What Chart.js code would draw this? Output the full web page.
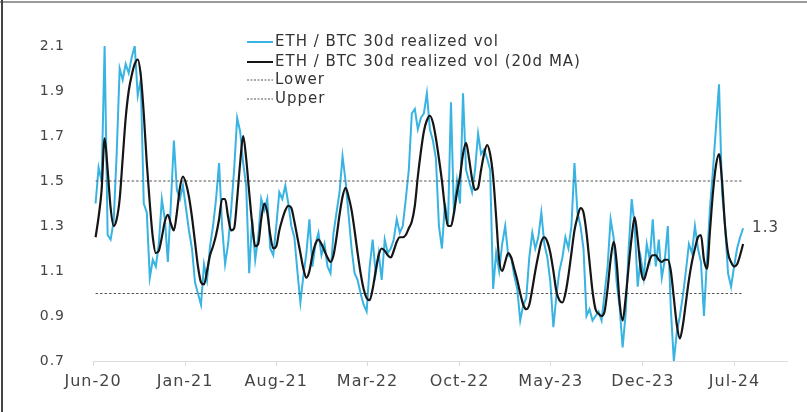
<!DOCTYPE html>
<html>
<head>
<meta charset="utf-8">
<script src="https://cdn.jsdelivr.net/npm/chart.js@4.4.1/dist/chart.umd.min.js"></script>
<style>
  html, body { margin: 0; padding: 0; background: #fff; }
  #wrap { position: relative; width: 807px; height: 412px; overflow: hidden; }
  #frameTop { position: absolute; left: 0; top: 1px; width: 807px; height: 2px; background: #9a9a9a; }
  #frameLeft { position: absolute; left: 1px; top: 0; width: 2px; height: 412px; background: #444; }
</style>
</head>
<body>
<div id="wrap">
  <canvas id="chart" width="807" height="412"></canvas>
  <div id="frameTop"></div>
  <div id="frameLeft"></div>
</div>
<script>
// weekly samples, first one on 2020-06-07
const firstSample = '2020-06-07'
const sampleStepDays = 7

const ethBtcVol = [
  1.40,1.56,1.50,2.10,1.26,1.24,1.32,1.62,2.00,1.95,2.02,1.98,
  2.05,2.10,1.88,1.95,1.40,1.36,1.07,1.15,1.12,1.22,1.42,1.33,
  1.14,1.40,1.68,1.46,1.42,1.48,1.38,1.28,1.20,1.05,1.00,0.95,
  1.13,1.06,1.21,1.30,1.42,1.58,1.30,1.13,1.22,1.37,1.55,1.78,
  1.72,1.58,1.48,1.09,1.33,1.15,1.25,1.42,1.37,1.42,1.20,1.17,
  1.30,1.45,1.42,1.48,1.40,1.30,1.25,1.10,0.96,1.08,1.18,1.33,
  1.12,1.22,1.27,1.17,1.22,1.12,1.09,1.27,1.36,1.45,1.61,1.50,
  1.35,1.20,1.09,1.06,1.00,0.95,0.92,1.12,1.24,1.09,1.18,1.06,
  1.24,1.18,1.20,1.24,1.33,1.27,1.30,1.42,1.55,1.80,1.82,1.73,
  1.78,1.80,1.89,1.73,1.68,1.60,1.30,1.20,1.40,1.30,1.85,1.35,
  1.50,1.40,1.89,1.55,1.50,1.45,1.55,1.71,1.62,1.64,1.60,1.55,
  1.02,1.18,1.10,1.22,1.30,1.17,1.16,1.08,1.02,0.88,0.95,0.98,
  1.16,1.27,1.20,1.25,1.36,1.22,1.16,1.05,0.85,0.99,1.10,1.16,
  1.25,1.20,1.30,1.58,1.36,1.30,1.20,0.90,0.93,0.88,0.90,0.92,
  0.88,1.00,1.12,1.33,1.25,1.05,0.94,0.76,0.91,1.20,1.42,1.30,
  1.03,1.16,1.07,1.22,1.15,1.33,1.12,1.24,1.07,1.15,1.30,0.93,
  0.70,0.83,0.90,0.99,1.10,1.22,1.18,1.30,1.20,1.14,0.90,1.15,
  1.38,1.55,1.74,1.93,1.45,1.30,1.09,1.03,1.12,1.20,1.25,1.29
]

const ethBtcVolMA = [
  1.25,1.34,1.46,1.69,1.55,1.38,1.30,1.33,1.42,1.60,1.78,1.90,
  1.97,2.02,2.04,1.97,1.80,1.58,1.40,1.25,1.18,1.19,1.25,1.32,
  1.35,1.31,1.28,1.36,1.47,1.52,1.49,1.43,1.34,1.23,1.12,1.05,
  1.04,1.10,1.17,1.21,1.26,1.33,1.42,1.42,1.34,1.28,1.29,1.42,
  1.58,1.70,1.60,1.45,1.31,1.21,1.22,1.33,1.40,1.36,1.26,1.20,
  1.21,1.28,1.33,1.37,1.39,1.38,1.32,1.25,1.18,1.11,1.07,1.10,
  1.17,1.22,1.24,1.22,1.19,1.16,1.14,1.17,1.25,1.35,1.43,1.47,
  1.43,1.37,1.28,1.18,1.09,1.02,0.98,0.97,1.02,1.10,1.17,1.20,
  1.19,1.17,1.16,1.19,1.23,1.25,1.25,1.26,1.29,1.32,1.39,1.52,
  1.63,1.72,1.77,1.79,1.76,1.69,1.60,1.50,1.38,1.30,1.30,1.36,
  1.45,1.52,1.62,1.67,1.60,1.51,1.46,1.47,1.55,1.62,1.66,1.62,
  1.52,1.34,1.15,1.10,1.14,1.18,1.16,1.11,1.06,1.00,0.95,0.93,
  0.95,1.02,1.10,1.17,1.23,1.25,1.23,1.18,1.10,1.01,0.97,0.96,
  1.00,1.08,1.18,1.28,1.34,1.38,1.36,1.27,1.14,1.01,0.93,0.91,
  0.90,0.92,1.02,1.15,1.23,1.14,0.96,0.88,0.98,1.12,1.25,1.34,
  1.24,1.11,1.06,1.10,1.15,1.17,1.17,1.15,1.14,1.15,1.15,1.10,
  0.98,0.86,0.80,0.86,0.96,1.06,1.14,1.20,1.25,1.26,1.15,1.11,
  1.28,1.45,1.57,1.62,1.50,1.30,1.18,1.14,1.12,1.13,1.17,1.22
]

const lowerBand = 1.0
const upperBand = 1.5

const tickLabels = ['Jun-20', 'Jan-21', 'Aug-21', 'Mar-22', 'Oct-22', 'May-23', 'Dec-23', 'Jul-24']
const tickDates = ['2020-06-01', '2021-01-01', '2021-08-01', '2022-03-01', '2022-10-01', '2023-05-01', '2023-12-01', '2024-07-01']
const axisEndDate = '2024-10-31'

const yMin = 0.7
const yMax = 2.1
const yStep = 0.2

const cyan = '#38b3e2'
const black = '#151515'
const bandColor = '#555'

// x axis works in days since the first tick
const origin = Date.parse(tickDates[0])
const dayOf = (d) => Math.round((Date.parse(d) - origin) / 86400000)
const firstDay = dayOf(firstSample)
const dayAt = (i) => firstDay + i * sampleStepDays
const tickDays = tickDates.map(dayOf)

function toPoints(values) {
  return values.map((v, i) => ({ x: dayAt(i), y: v }))
}
const lastDay = dayAt(ethBtcVol.length - 1)

const legendPlugin = {
  id: 'legendBox',
  afterDraw(chart) {
    const ctx = chart.ctx
    ctx.save()
    ctx.font = '15px "DejaVu Sans"'
    ctx.letterSpacing = '1px'
    ctx.textBaseline = 'middle'
    ctx.fillStyle = '#333'
    const rows = [42, 62, 80, 99]
    chart.data.datasets.forEach((ds, k) => {
      const y = rows[k]
      ctx.beginPath()
      ctx.strokeStyle = ds.borderColor
      ctx.lineWidth = ds.borderDash.length ? 1.2 : 2
      ctx.setLineDash(ds.borderDash.length ? [2, 1.5] : [])
      ctx.moveTo(247, y)
      ctx.lineTo(273, y)
      ctx.stroke()
      ctx.setLineDash([])
      ctx.fillText(ds.label, 275, y)
    })
    ctx.restore()
  }
}

const endLabelPlugin = {
  id: 'endLabel',
  afterDatasetsDraw(chart) {
    const ctx = chart.ctx
    const last = ethBtcVol[ethBtcVol.length - 1]
    const x = chart.scales.x.getPixelForValue(lastDay) + 9
    const y = chart.scales.y.getPixelForValue(last)
    ctx.save()
    ctx.font = '15px "DejaVu Sans"'
    ctx.letterSpacing = '1px'
    ctx.textBaseline = 'middle'
    ctx.fillStyle = '#444'
    ctx.fillText(last.toFixed(1), x, y)
    ctx.restore()
  }
}

const spacingPlugin = {
  id: 'spacing',
  beforeLayout(chart) { chart.ctx.letterSpacing = '1px' },
  beforeDraw(chart) { chart.ctx.letterSpacing = '1px' }
}

new Chart(document.getElementById('chart'), {
  type: 'line',
  data: {
    datasets: [
      {
        label: 'ETH / BTC 30d realized vol',
        data: toPoints(ethBtcVol),
        borderColor: cyan,
        borderWidth: 2,
        borderDash: [],
        pointRadius: 0,
        tension: 0,
        order: 3
      },
      {
        label: 'ETH / BTC 30d realized vol (20d MA)',
        data: toPoints(ethBtcVolMA),
        borderColor: black,
        borderWidth: 2.2,
        borderDash: [],
        pointRadius: 0,
        tension: 0.4,
        cubicInterpolationMode: 'monotone',
        order: 0
      },
      {
        label: 'Lower',
        data: [{ x: firstDay, y: lowerBand }, { x: lastDay, y: lowerBand }],
        borderColor: bandColor,
        borderWidth: 1.2,
        borderDash: [2.5, 2],
        pointRadius: 0,
        order: 1
      },
      {
        label: 'Upper',
        data: [{ x: firstDay, y: upperBand }, { x: lastDay, y: upperBand }],
        borderColor: bandColor,
        borderWidth: 1.2,
        borderDash: [2.5, 2],
        pointRadius: 0,
        order: 1
      }
    ]
  },
  options: {
    responsive: false,
    animation: false,
    devicePixelRatio: 1,
    layout: { padding: { top: 46, right: 20, left: 0, bottom: 0 } },
    plugins: {
      legend: { display: false },
      tooltip: { enabled: false }
    },
    scales: {
      x: {
        type: 'linear',
        min: 0,
        max: dayOf(axisEndDate),
        afterBuildTicks(scale) { scale.ticks = tickDays.map(v => ({ value: v })) },
        afterFit(scale) { scale.height = 51 },
        grid: { display: true, drawOnChartArea: false, drawTicks: true, tickLength: 5, color: '#dcdcdc' },
        border: { display: true, color: '#dcdcdc' },
        ticks: {
          autoSkip: false,
          maxRotation: 0,
          padding: 6,
          color: '#444',
          font: { family: 'DejaVu Sans', size: 16 },
          callback: (v) => tickLabels[tickDays.indexOf(v)]
        }
      },
      y: {
        min: yMin,
        max: yMax,
        afterFit(scale) { scale.width = 93 },
        grid: { display: false },
        border: { display: false },
        ticks: {
          stepSize: yStep,
          padding: 20,
          color: '#444',
          font: { family: 'DejaVu Sans', size: 14 },
          callback: (v) => v.toFixed(1)
        }
      }
    }
  },
  plugins: [spacingPlugin, legendPlugin, endLabelPlugin]
})
</script>
</body>
</html>
